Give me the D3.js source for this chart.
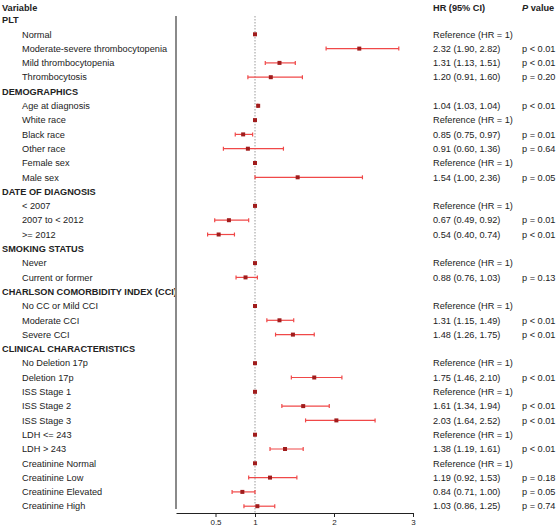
<!DOCTYPE html>
<html>
<head>
<meta charset="utf-8">
<script src="https://cdn.jsdelivr.net/npm/d3@7"></script>
<style>
  body { margin: 0; background: #fff; }
  svg { font-family: "Liberation Sans", Arial, sans-serif; }
</style>
</head>
<body>
<svg width="560" height="527"></svg>
<script>
// row labels, headers flagged separately
const labels = [
  "PLT", "Normal", "Moderate-severe thrombocytopenia", "Mild thrombocytopenia", "Thrombocytosis",
  "DEMOGRAPHICS", "Age at diagnosis", "White race", "Black race", "Other race", "Female sex", "Male sex",
  "DATE OF DIAGNOSIS", "< 2007", "2007 to < 2012", ">= 2012",
  "SMOKING STATUS", "Never", "Current or former",
  "CHARLSON COMORBIDITY INDEX (CCI)", "No CC or Mild CCI", "Moderate CCI", "Severe CCI",
  "CLINICAL CHARACTERISTICS", "No Deletion 17p", "Deletion 17p", "ISS Stage 1", "ISS Stage 2", "ISS Stage 3",
  "LDH <= 243", "LDH > 243", "Creatinine Normal", "Creatinine Low", "Creatinine Elevated", "Creatinine High"
];
const headers = [0, 5, 12, 16, 19, 23];

// hazard ratios and 95% CI (null = header row)
const hr = [null, 1, 2.32, 1.31, 1.20, null, 1.04, 1, 0.85, 0.91, 1, 1.54, null, 1, 0.67, 0.54,
  null, 1, 0.88, null, 1, 1.31, 1.48, null, 1, 1.75, 1, 1.61, 2.03, 1, 1.38, 1, 1.19, 0.84, 1.03];
const lo = [null, null, 1.90, 1.13, 0.91, null, 1.03, null, 0.75, 0.60, null, 1.00, null, null, 0.49, 0.40,
  null, null, 0.76, null, null, 1.15, 1.26, null, null, 1.46, null, 1.34, 1.64, null, 1.19, null, 0.92, 0.71, 0.86];
const hi = [null, null, 2.82, 1.51, 1.60, null, 1.04, null, 0.97, 1.36, null, 2.36, null, null, 0.92, 0.74,
  null, null, 1.03, null, null, 1.49, 1.75, null, null, 2.10, null, 1.94, 2.52, null, 1.61, null, 1.53, 1.00, 1.25];
const pText = ["", "", "p < 0.01", "p < 0.01", "p = 0.20", "", "p < 0.01", "", "p = 0.01", "p = 0.64", "", "p = 0.05",
  "", "", "p = 0.01", "p < 0.01", "", "", "p = 0.13", "", "", "p < 0.01", "p < 0.01", "", "", "p < 0.01",
  "", "p < 0.01", "p < 0.01", "", "p < 0.01", "", "p = 0.18", "p = 0.05", "p = 0.74"];
const xTicks = [0.5, 1, 2, 3];

const FONT = 9.2;
const HR_X = 433;
const P_X = 522;
const svg = d3.select("svg");

const x = d3.scaleLinear().domain([0, 3]).range([176, 413]);
const y = d3.scalePoint().domain(d3.range(labels.length)).range([20, 506.2]);

const hrLabel = i => {
  if (hr[i] == null) return "";
  if (lo[i] == null) return "Reference (HR = 1)";
  const f = d3.format(".2f");
  return `${f(hr[i])} (${f(lo[i])}, ${f(hi[i])})`;
};

// column headers
svg.append("text").attr("x", 2).attr("y", 8).attr("dy", "0.35em")
  .attr("font-size", FONT).attr("font-weight", "bold").attr("fill", "#222").text("Variable");
svg.append("text").attr("x", HR_X).attr("y", 8).attr("dy", "0.35em")
  .attr("font-size", FONT).attr("font-weight", "bold").attr("fill", "#222").text("HR (95% CI)");
const pv = svg.append("text").attr("x", P_X).attr("y", 8).attr("dy", "0.35em")
  .attr("font-size", FONT).attr("font-weight", "bold").attr("fill", "#222");
pv.append("tspan").attr("font-style", "italic").text("P");
pv.append("tspan").text(" value");

// left labels
svg.append("g").selectAll("text")
  .data(d3.range(labels.length))
  .join("text")
  .attr("x", i => headers.includes(i) ? 2 : 22)
  .attr("y", i => y(i))
  .attr("dy", "0.35em")
  .attr("font-size", FONT)
  .attr("font-weight", i => headers.includes(i) ? "bold" : "normal")
  .attr("fill", "#222")
  .text(i => labels[i]);

// left gray axis line
svg.append("line").attr("x1", 176).attr("x2", 176).attr("y1", 16).attr("y2", 509)
  .attr("stroke", "#8a8a8a").attr("stroke-width", 2);

// reference line at HR = 1
svg.append("line").attr("x1", x(1)).attr("x2", x(1)).attr("y1", 16).attr("y2", 513)
  .attr("stroke", "#999").attr("stroke-width", 1).attr("stroke-dasharray", "1.5,1.5");

// bottom axis
const axis = svg.append("g").attr("transform", "translate(0,513)")
  .call(d3.axisBottom(x).tickValues(xTicks).tickFormat(d3.format("")).tickSize(4).tickSizeOuter(0));
axis.select(".domain").attr("stroke", "#222");
axis.selectAll(".tick line").attr("stroke", "#222");
axis.selectAll(".tick text").attr("font-size", 8).attr("font-family", "Liberation Sans, Arial, sans-serif")
  .attr("fill", "#222").attr("y", 6);

// CI whiskers
const ciRows = d3.range(labels.length).filter(i => lo[i] != null);
const ci = svg.append("g").selectAll("g").data(ciRows).join("g")
  .attr("stroke", "#f04848").attr("stroke-width", 1.2);
ci.append("line").attr("x1", i => x(lo[i])).attr("x2", i => x(hi[i]))
  .attr("y1", i => y(i)).attr("y2", i => y(i));
ci.append("line").attr("x1", i => x(lo[i])).attr("x2", i => x(lo[i]))
  .attr("y1", i => y(i) - 2).attr("y2", i => y(i) + 2);
ci.append("line").attr("x1", i => x(hi[i])).attr("x2", i => x(hi[i]))
  .attr("y1", i => y(i) - 2).attr("y2", i => y(i) + 2);

// point estimates
const ptRows = d3.range(labels.length).filter(i => hr[i] != null);
svg.append("g").selectAll("rect").data(ptRows).join("rect")
  .attr("x", i => x(hr[i]) - 2).attr("y", i => y(i) - 2)
  .attr("width", 4).attr("height", 4)
  .attr("fill", "#a01c1c");

// HR text column
svg.append("g").selectAll("text").data(ptRows).join("text")
  .attr("x", HR_X).attr("y", i => y(i)).attr("dy", "0.35em")
  .attr("font-size", FONT).attr("fill", "#222")
  .text(hrLabel);

// p value column
svg.append("g").selectAll("text").data(ptRows.filter(i => pText[i])).join("text")
  .attr("x", P_X).attr("y", i => y(i)).attr("dy", "0.35em")
  .attr("font-size", FONT).attr("fill", "#222")
  .text(i => pText[i]);
</script>
</body>
</html>
